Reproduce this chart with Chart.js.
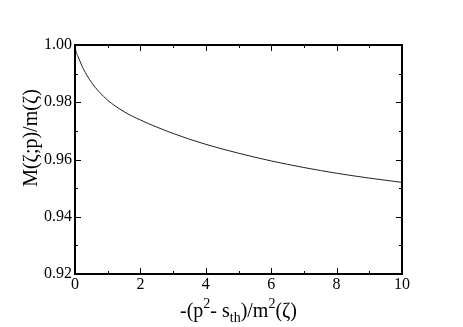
<!DOCTYPE html>
<html>
<head>
<meta charset="utf-8">
<script src="https://cdn.jsdelivr.net/npm/chart.js@4.4.1/dist/chart.umd.min.js"></script>
<style>
  html, body { margin:0; padding:0; background:#fff; }
  #wrap { width:463px; height:327px; }
</style>
</head>
<body>
<div id="wrap"><canvas id="c" width="463" height="327"></canvas></div>
<script>
// ─── data ────────────────────────────────────────────
const xVals = [0, 0.02, 0.1, 0.25, 0.5, 0.75, 1, 1.5, 2, 3, 4, 5, 6, 7, 8, 9, 10];
const mVals = [1.0000, 0.9983, 0.9958, 0.9918, 0.9870, 0.9835, 0.9807, 0.9767, 0.9738,
               0.9691, 0.9653, 0.9622, 0.9595, 0.9572, 0.9552, 0.9535, 0.9520];
const xRange = [0, 10], xMajor = 2, xMinor = 0.5;
const yRange = [0.92, 1.00], yMajor = 0.02, yMinor = 0.005;

const SERIF = '"Liberation Serif", "DejaVu Serif", serif';
const isMult = (v, step) => Math.abs(v / step - Math.round(v / step)) < 1e-6;

// frame, inward ticks on all four sides, labels and titles
const framePlugin = {
  id: 'frame',
  afterDraw(chart) {
    const ctx = chart.ctx;
    const { left, right, top, bottom } = chart.chartArea;
    const xs = chart.scales.x, ys = chart.scales.y;
    ctx.save();
    ctx.strokeStyle = '#000';
    ctx.fillStyle = '#000';

    ctx.lineWidth = 1;
    ctx.beginPath();
    xs.ticks.forEach(t => {
      const px = Math.round(xs.getPixelForValue(t.value)) + 0.5;
      const len = isMult(t.value, xMajor) ? 6 : 3;
      ctx.moveTo(px, bottom); ctx.lineTo(px, bottom - len);
      ctx.moveTo(px, top);    ctx.lineTo(px, top + len);
    });
    ys.ticks.forEach(t => {
      const py = Math.round(ys.getPixelForValue(t.value)) + 0.5;
      const len = isMult(t.value, yMajor) ? 6 : 3;
      ctx.moveTo(left, py);  ctx.lineTo(left + len, py);
      ctx.moveTo(right, py); ctx.lineTo(right - len, py);
    });
    ctx.stroke();

    ctx.lineWidth = 2;
    ctx.strokeRect(left, top, right - left, bottom - top);

    // tick labels
    ctx.font = '16px ' + SERIF;
    ctx.textAlign = 'center'; ctx.textBaseline = 'top';
    xs.ticks.forEach(t => {
      if (!isMult(t.value, xMajor)) return;
      ctx.fillText(String(Math.round(t.value)), xs.getPixelForValue(t.value), bottom + 3);
    });
    ctx.textAlign = 'right'; ctx.textBaseline = 'middle';
    ys.ticks.forEach(t => {
      if (!isMult(t.value, yMajor)) return;
      ctx.fillText(t.value.toFixed(2), left - 3, ys.getPixelForValue(t.value));
    });

    // y title
    ctx.save();
    ctx.translate(32, 138);
    ctx.rotate(-Math.PI / 2);
    ctx.font = '20px ' + SERIF;
    ctx.textAlign = 'center'; ctx.textBaseline = 'middle';
    ctx.fillText('M(ζ;p)/m(ζ)', 0, 0);
    ctx.restore();

    // x title with super/subscripts
    const parts = [
      ['-(p', 0, 20], ['2', -9, 14], ['- s', 0, 20], ['th', 5, 14],
      [')/m', 0, 20], ['2', -9, 14], ['(ζ)', 0, 20],
    ];
    ctx.textAlign = 'left'; ctx.textBaseline = 'alphabetic';
    let w = 0;
    parts.forEach(([s, , sz]) => { ctx.font = sz + 'px ' + SERIF; w += ctx.measureText(s).width; });
    let x = (left + right) / 2 - w / 2;
    const base = 317;
    parts.forEach(([s, dy, sz]) => {
      ctx.font = sz + 'px ' + SERIF;
      ctx.fillText(s, x, base + dy);
      x += ctx.measureText(s).width;
    });
    ctx.restore();
  }
};

new Chart(document.getElementById('c'), {
  type: 'line',
  data: {
    datasets: [{
      data: xVals.map((x, i) => ({ x, y: mVals[i] })),
      borderColor: '#222',
      borderWidth: 1,
      pointRadius: 0,
      cubicInterpolationMode: 'monotone',
      fill: false,
    }]
  },
  options: {
    responsive: false,
    animation: false,
    devicePixelRatio: 1,
    layout: { padding: { left: 75, right: 61, top: 45, bottom: 53 } },
    plugins: { legend: { display: false }, tooltip: { enabled: false } },
    scales: {
      x: { type: 'linear', display: false, min: xRange[0], max: xRange[1], ticks: { stepSize: xMinor } },
      y: { type: 'linear', display: false, min: yRange[0], max: yRange[1], ticks: { stepSize: yMinor } },
    },
  },
  plugins: [framePlugin],
});
</script>
</body>
</html>
